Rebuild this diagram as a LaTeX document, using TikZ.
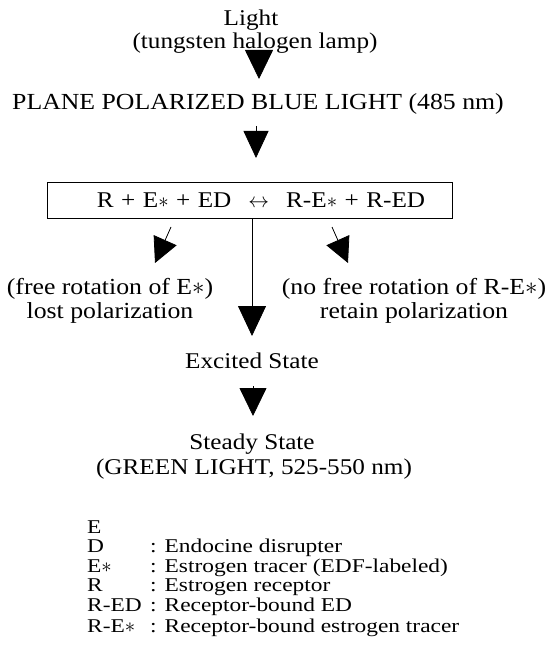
\documentclass[tikz,border=0pt]{standalone}
\usepackage{fontspec}
\setmainfont{Liberation Serif}[FakeStretch=1.12]
\newfontfamily\legfont{Liberation Serif}[FakeStretch=1.2]
\usetikzlibrary{arrows.meta}
\begin{document}
\begin{tikzpicture}[x=1pt,y=-1pt,
  txt/.style={inner sep=0pt,anchor=base,font=\fontsize{22.5}{24}\selectfont},
  rottxt/.style={inner sep=0pt,anchor=base,font=\fontsize{23}{24}\selectfont},
  bigtxt/.style={inner sep=0pt,anchor=base,font=\fontsize{23}{24}\selectfont},
  legtxt/.style={inner sep=0pt,anchor=base west,font=\legfont\fontsize{19.5}{21}\selectfont},
  eqbox/.style={draw,line width=0.9pt,inner sep=0pt}]
\useasboundingbox (0,0) rectangle (553,655);
\fill[white] (0,0) rectangle (553,655);
% text nodes
\node[txt] (light) at (251,26) {Light};
\node[txt] (lamp) at (255,49) {(tungsten halogen lamp)};
\node[bigtxt] (plane) at (258,110) {PLANE POLARIZED BLUE LIGHT (485 nm)};
\draw[eqbox] (47,182) rectangle (452,218);
\node[txt] (eq) at (261,207) {R\hspace{7.5pt}+\hspace{7.5pt}E$\ast$\hspace{7.5pt}+\hspace{7.5pt}ED\hspace{17pt}$\leftrightarrow$\hspace{17pt}R-E$\ast$\hspace{7.5pt}+\hspace{7.5pt}R-ED};
\node[rottxt] (free) at (110,294) {(free rotation of E$\ast$)};
\node[rottxt] (lost) at (110,318) {lost polarization};
\node[rottxt] (nofree) at (414,294) {(no free rotation of R-E$\ast$)};
\node[rottxt] (retain) at (414,318) {retain polarization};
\node[txt] (excited) at (252,368) {Excited State};
\node[txt] (steady) at (252,449) {Steady State};
\node[txt] (green) at (254,474) {(GREEN LIGHT, 525-550 nm)};
% legend
\node[legtxt] (lE) at (87,533) {E};
\node[legtxt] (lD) at (87,552.5) {D};
\node[legtxt] (lEs) at (87,572) {E$\ast$};
\node[legtxt] (lR) at (87,591.5) {R};
\node[legtxt] (lRED) at (87,611) {R-ED};
\node[legtxt] (lREs) at (87,632) {R-E$\ast$};
\node[legtxt] (cD) at (150,552.5) {:\hspace{8pt}Endocine disrupter};
\node[legtxt] (cEs) at (150,572) {:\hspace{8pt}Estrogen tracer (EDF-labeled)};
\node[legtxt] (cR) at (150,591.5) {:\hspace{8pt}Estrogen receptor};
\node[legtxt] (cRED) at (150,611) {:\hspace{8pt}Receptor-bound ED};
\node[legtxt] (cREs) at (150,632) {:\hspace{8pt}Receptor-bound estrogen tracer};
% arrow end points
\coordinate (a1s) at (259,50);
\coordinate (a1e) at (259,79);
\coordinate (a2s) at (256,126);
\coordinate (a2e) at (256,158);
\coordinate (a3s) at (252,218);
\coordinate (a3e) at (252,336);
\coordinate (a4s) at (253,386);
\coordinate (a4e) at (253,416);
\coordinate (als) at (171,227);
\coordinate (ale) at (155,263);
\coordinate (ars) at (332,227);
\coordinate (are) at (348,263);
% connectors
\draw[line width=0.8pt,-{Triangle[width=28pt,length=29pt]}] (a1s) -- (a1e);
\draw[line width=0.8pt,-{Triangle[width=25pt,length=27pt]}] (a2s) -- (a2e);
\draw[line width=0.8pt,-{Triangle[width=28pt,length=30pt]}] (a3s) -- (a3e);
\draw[line width=0.8pt,-{Triangle[width=27pt,length=28pt]}] (a4s) -- (a4e);
\draw[line width=0.8pt,-{Triangle[width=25pt,length=25pt]}] (als) -- (ale);
\draw[line width=0.8pt,-{Triangle[width=25pt,length=25pt]}] (ars) -- (are);
\end{tikzpicture}
\end{document}
